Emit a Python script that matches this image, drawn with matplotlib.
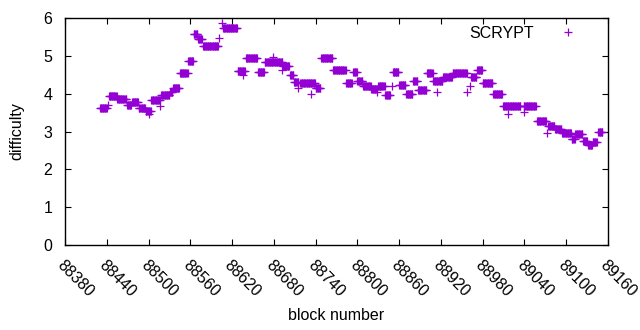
import numpy as np
import matplotlib
matplotlib.use("Agg")
import matplotlib.pyplot as plt

# runs of blocks with the same difficulty (first block, last block, value)
run_start = [88430, 88443, 88455, 88469, 88476, 88486, 88496, 88504, 88518, 88531,
             88535, 88545, 88557, 88565, 88571, 88578, 88607, 88628, 88640, 88657,
             88667, 88693, 88703, 88709, 88718, 88740, 88748, 88765, 88784, 88794,
             88800, 88808, 88820, 88830, 88840, 88851, 88860, 88870, 88880, 88887,
             88900, 88909, 88923, 88937, 88963, 88972, 88980, 88995, 89009, 89039,
             89058, 89074, 89084, 89094, 89108, 89113, 89124, 89131, 89138, 89146]
run_end = [88440, 88454, 88468, 88475, 88485, 88495, 88503, 88516, 88530, 88534,
           88544, 88556, 88564, 88570, 88577, 88600, 88627, 88638, 88656, 88666,
           88692, 88702, 88708, 88715, 88739, 88747, 88764, 88783, 88792, 88799,
           88807, 88819, 88828, 88839, 88847, 88859, 88869, 88879, 88886, 88899,
           88908, 88922, 88936, 88957, 88971, 88979, 88994, 89008, 89034, 89056,
           89071, 89083, 89093, 89107, 89112, 89123, 89130, 89137, 89144, 89152]
run_value = [3.63, 3.93, 3.87, 3.69, 3.79, 3.63, 3.54, 3.84, 3.97, 4.04,
             4.14, 4.55, 4.86, 5.57, 5.44, 5.25, 5.73, 4.60, 4.93, 4.57,
             4.85, 4.74, 4.49, 4.30, 4.27, 4.15, 4.93, 4.62, 4.28, 4.57,
             4.33, 4.20, 4.12, 4.19, 3.96, 4.56, 4.24, 4.00, 4.33, 4.10,
             4.54, 4.33, 4.45, 4.54, 4.45, 4.62, 4.28, 3.98, 3.68, 3.67,
             3.27, 3.15, 3.06, 2.96, 2.80, 2.93, 2.75, 2.63, 2.73, 3.00]

# single blocks off their run
odd_block = [88442, 88500, 88517, 88605, 88601, 88636, 88679, 88715, 88692, 88733,
             88828, 88850, 88914, 88957, 88962, 89016, 89039, 89072]
odd_value = [3.70, 3.46, 3.68, 5.87, 5.48, 4.49, 4.97, 4.15, 4.62, 4.00,
             4.05, 4.20, 4.04, 4.05, 4.20, 3.46, 3.51, 2.96]

blocks = np.concatenate([np.arange(s, e + 1) for s, e in zip(run_start, run_end)] + [odd_block])
diffs = np.concatenate([np.full(e - s + 1, v) for s, e, v in zip(run_start, run_end, run_value)] + [odd_value])

x_ticks = list(range(88380, 89161, 60))
y_ticks = [0, 1, 2, 3, 4, 5, 6]

plt.rcParams['font.family'] = ['Liberation Sans', 'DejaVu Sans']
fig = plt.figure(figsize=(6.4, 3.3), dpi=100)
ax = fig.add_axes([65 / 640, 1 - 245 / 330, 543 / 640, 227 / 330])

ax.plot(blocks, diffs, linestyle='none', marker='+', markersize=5.5,
        markeredgewidth=0.9, color='#9400D3', label='SCRYPT')

ax.set_xlim(88380, 89160)
ax.set_ylim(0, 6)
ax.set_xticks(x_ticks)
ax.set_yticks(y_ticks)
ax.set_xticklabels([str(t) for t in x_ticks], rotation=-45, ha='left', va='top',
                   rotation_mode='anchor', fontsize=11.5)
ax.set_yticklabels([str(t) for t in y_ticks], fontsize=11.5)
ax.tick_params(direction='in', top=True, right=True, length=4, width=0.8, pad=9)
ax.tick_params(axis='x', pad=9)
for s in ax.spines.values():
    s.set_linewidth(1.0)

ax.set_xlabel('block number', fontsize=11.5, labelpad=6)
ax.set_ylabel('difficulty', fontsize=11.5, labelpad=14)

ax.legend(loc='upper right', frameon=False, markerfirst=False, fontsize=11.5,
          handlelength=2.0, handletextpad=1.1, borderaxespad=0.1,
          bbox_to_anchor=(0.97, 1.0))

fig.savefig('out.png', dpi=100)
